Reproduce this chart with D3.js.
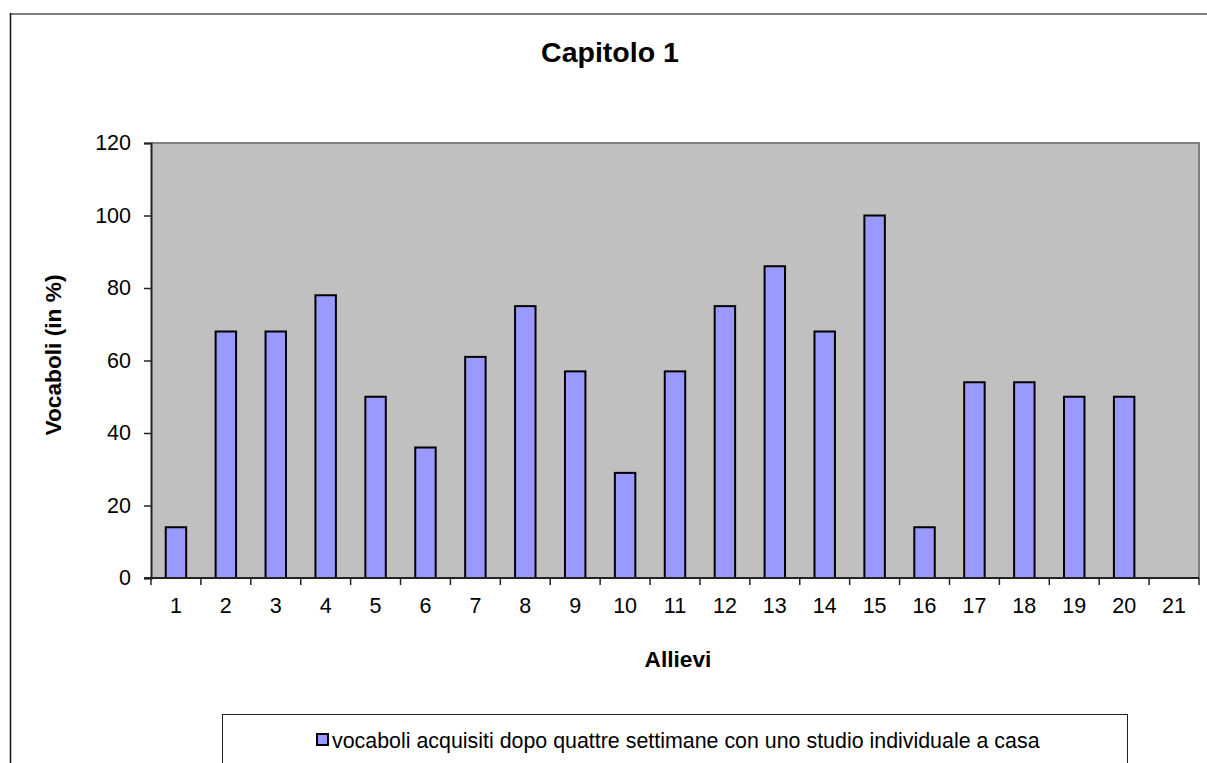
<!DOCTYPE html>
<html>
<head>
<meta charset="utf-8">
<script src="https://cdn.jsdelivr.net/npm/d3@7"></script>
<style>
  html, body { margin: 0; padding: 0; background: #fff; }
  svg { display: block; font-family: Arial, "Liberation Sans", sans-serif; }
</style>
</head>
<body>
<svg id="chart" width="1207" height="763"></svg>
<script>
// Chart data
const categories = ["1","2","3","4","5","6","7","8","9","10","11","12","13","14","15","16","17","18","19","20","21"];
const values = [14, 68, 68, 78, 50, 36, 61, 75, 57, 29, 57, 75, 86, 68, 100, 14, 54, 54, 50, 50, null];
const yTicks = [0, 20, 40, 60, 80, 100, 120];
const titleText = "Capitolo 1";
const xTitle = "Allievi";
const yTitle = "Vocaboli (in %)";
const seriesName = "vocaboli acquisiti dopo quattre settimane con uno studio individuale a casa";

const svg = d3.select("#chart");

// Outer chart frame
svg.append("line").attr("x1", 10).attr("x2", 1207).attr("y1", 14).attr("y2", 14)
  .attr("stroke", "#808080").attr("stroke-width", 2);
svg.append("line").attr("x1", 10.5).attr("x2", 10.5).attr("y1", 13).attr("y2", 763)
  .attr("stroke", "#111").attr("stroke-width", 1.5);

const plot = { left: 151, right: 1199, top: 143, bottom: 578 };

const x = d3.scaleBand().domain(categories).range([plot.left, plot.right]).padding(0);
const y = d3.scaleLinear().domain([0, 120]).range([plot.bottom, plot.top]);

// Plot area background
svg.append("rect")
  .attr("x", plot.left).attr("y", plot.top)
  .attr("width", plot.right - plot.left).attr("height", plot.bottom - plot.top)
  .attr("fill", "#c0c0c0");
svg.append("path")
  .attr("d", `M${plot.left},${plot.top}H${plot.right}V${plot.bottom}`)
  .attr("fill", "none").attr("stroke", "#808080").attr("stroke-width", 2);

// Bars
const barFrac = 0.41;
const bw = x.bandwidth() * barFrac;
svg.append("g").selectAll("rect")
  .data(categories.map((c, i) => ({ c, v: values[i] })).filter(d => d.v != null))
  .join("rect")
  .attr("x", d => x(d.c) + (x.bandwidth() - bw) / 2)
  .attr("y", d => y(d.v))
  .attr("width", bw)
  .attr("height", d => y(0) - y(d.v))
  .attr("fill", "#9999ff")
  .attr("stroke", "#000")
  .attr("stroke-width", 2);

// Y axis
const yAxis = svg.append("g").attr("transform", `translate(${plot.left},0)`)
  .call(d3.axisLeft(y).tickValues(yTicks).tickSize(7).tickPadding(13));
yAxis.select(".domain").attr("stroke", "#222").attr("stroke-width", 2);
yAxis.selectAll(".tick line").attr("stroke", "#222").attr("stroke-width", 1.5);
yAxis.selectAll(".tick text").attr("font-size", 21.5).attr("fill", "#000")
  .attr("font-family", "Arial, 'Liberation Sans', sans-serif");

// X axis: ticks on category boundaries, labels centred in each band
const xg = svg.append("g");
xg.append("line").attr("x1", plot.left - 7).attr("x2", plot.right)
  .attr("y1", plot.bottom).attr("y2", plot.bottom)
  .attr("stroke", "#222").attr("stroke-width", 2);
const boundaries = categories.map(c => x(c)).concat([x(categories[categories.length - 1]) + x.bandwidth()]);
xg.selectAll("line.tk").data(boundaries).join("line").attr("class", "tk")
  .attr("x1", d => d).attr("x2", d => d)
  .attr("y1", plot.bottom).attr("y2", plot.bottom + 7)
  .attr("stroke", "#222").attr("stroke-width", 1.5);
xg.selectAll("text").data(categories).join("text")
  .attr("x", d => x(d) + x.bandwidth() / 2)
  .attr("y", 613)
  .attr("text-anchor", "middle")
  .attr("font-size", 21.5)
  .text(d => d);

// Titles
svg.append("text").attr("x", 610).attr("y", 62).attr("text-anchor", "middle")
  .attr("font-size", 28.5).attr("font-weight", "bold").text(titleText);
svg.append("text").attr("x", 678).attr("y", 667).attr("text-anchor", "middle")
  .attr("font-size", 22.7).attr("font-weight", "bold").text(xTitle);
svg.append("text").attr("transform", "translate(61,355) rotate(-90)")
  .attr("text-anchor", "middle")
  .attr("font-size", 22.7).attr("font-weight", "bold").text(yTitle);

// Legend
svg.append("rect").attr("x", 222.5).attr("y", 714.5).attr("width", 905).attr("height", 80)
  .attr("fill", "#fff").attr("stroke", "#222").attr("stroke-width", 1);
svg.append("rect").attr("x", 317).attr("y", 734).attr("width", 11).attr("height", 11)
  .attr("fill", "#9999ff").attr("stroke", "#000").attr("stroke-width", 2);
svg.append("text").attr("x", 332).attr("y", 748).attr("font-size", 21.4).text(seriesName);
</script>
</body>
</html>
